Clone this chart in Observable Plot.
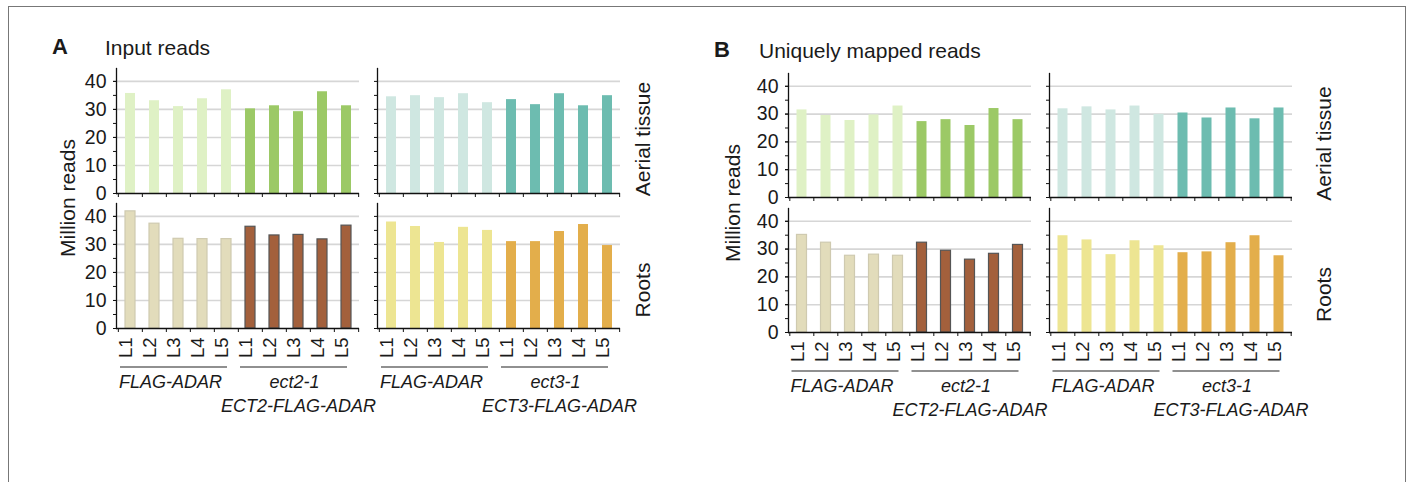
<!DOCTYPE html>
<html>
<head>
<meta charset="utf-8">
<script src="https://cdn.jsdelivr.net/npm/d3@7"></script>
<script src="https://cdn.jsdelivr.net/npm/@observablehq/plot@0.6"></script>
<style>
  body { margin: 0; background: #fff; font-family: "Liberation Sans", Arial, Helvetica, sans-serif; color: #1a1a1a; }
  #wrap { position: relative; width: 1411px; height: 482px; overflow: hidden; background: #fff; }
  .border { position: absolute; left: 8px; top: 6px; width: 1398px; height: 540px; border: 1px solid #777; box-sizing: border-box; }
  .abs { position: absolute; white-space: nowrap; line-height: 1; }
  .letter { font-weight: bold; font-size: 22px; }
  .title { font-size: 21px; }
  .ylab { font-size: 21px; transform: translate(-50%, -50%) rotate(-90deg); }
  .panel { position: absolute; top: 0; }
  .panel svg { overflow: visible; }
</style>
</head>
<body>
<div id="wrap">
  <div class="border"></div>
  <div class="abs letter" style="left:52px;top:36px;">A</div>
  <div class="abs title" style="left:105px;top:37px;">Input reads</div>
  <div class="abs letter" style="left:714px;top:39px;">B</div>
  <div class="abs title" style="left:759px;top:40px;">Uniquely mapped reads</div>
  <div class="abs ylab" style="left:67px;top:198px;">Million reads</div>
  <div class="abs ylab" style="left:732px;top:203px;">Million reads</div>
  <div id="panelA" class="panel" style="left:0px;"></div>
  <div id="panelB" class="panel" style="left:700px;"></div>
</div>
<script>
// ---------- categories & labels ----------
const lanes = ["L1", "L2", "L3", "L4", "L5"];
const slots = ["c", "m"];                       // control group / mutant group inside a facet
const columnKeys = ["ect2", "ect3"];            // left / right facet columns
const tissues = ["Aerial tissue", "Roots"];     // facet rows
const controlLabel = "FLAG-ADAR";
const mutantLines = ["ect2-1", "ect3-1"];
const mutantTransgenes = ["ECT2-FLAG-ADAR", "ECT3-FLAG-ADAR"];
const yTickLabels = [0, 10, 20, 30, 40];
const yMinorTicks = [0, 5, 10, 15, 20, 25, 30, 35, 40];

// ---------- A: Input reads (million) ----------
const inputAerialFlagL = [35.7, 33.1, 31.0, 33.8, 37.0];
const inputAerialEct2  = [30.2, 31.3, 29.2, 36.3, 31.3];
const inputAerialFlagR = [34.5, 34.9, 34.2, 35.6, 32.4];
const inputAerialEct3  = [33.5, 31.7, 35.6, 31.3, 34.9];
const inputRootsFlagL  = [41.8, 37.4, 32.0, 31.9, 31.9];
const inputRootsEct2   = [36.3, 33.2, 33.4, 31.8, 36.7];
const inputRootsFlagR  = [38.0, 36.4, 30.7, 36.1, 35.0];
const inputRootsEct3   = [31.0, 31.0, 34.6, 37.1, 29.6];

// ---------- B: Uniquely mapped reads (million) ----------
const uniqAerialFlagL = [31.5, 29.5, 27.7, 29.7, 32.9];
const uniqAerialEct2  = [27.3, 28.0, 25.9, 32.0, 28.0];
const uniqAerialFlagR = [31.9, 32.6, 31.5, 32.9, 29.9];
const uniqAerialEct3  = [30.4, 28.6, 32.2, 28.3, 32.2];
const uniqRootsFlagL  = [35.1, 32.3, 27.6, 28.0, 27.6];
const uniqRootsEct2   = [32.3, 29.4, 26.2, 28.3, 31.5];
const uniqRootsFlagR  = [34.8, 33.3, 28.0, 33.0, 31.2];
const uniqRootsEct3   = [28.7, 29.0, 32.3, 34.8, 27.6];

// series order: tissue x column x slot
const seriesFill   = ["#dff1c5", "#9cc966", "#cfe7e1", "#6dbcb0", "#e2dcbb", "#a3603c", "#ede592", "#e3ae4b"];
const seriesStroke = ["none", "none", "none", "none", "#cfcab0", "#555", "none", "none"];

const inputSeries = [inputAerialFlagL, inputAerialEct2, inputAerialFlagR, inputAerialEct3,
                     inputRootsFlagL, inputRootsEct2, inputRootsFlagR, inputRootsEct3];
const uniqSeries  = [uniqAerialFlagL, uniqAerialEct2, uniqAerialFlagR, uniqAerialEct3,
                     uniqRootsFlagL, uniqRootsEct2, uniqRootsFlagR, uniqRootsEct3];

const xDomain = slots.flatMap(s => lanes.map(l => s + " " + l));

function buildRows(series) {
  const rows = [];
  tissues.forEach((t, ti) => columnKeys.forEach((c, ci) => slots.forEach((s, si) => {
    const k = ti * 4 + ci * 2 + si;
    series[k].forEach((v, li) => rows.push({fy: t, fx: c, x: s + " " + lanes[li], value: v, k}));
  })));
  return rows;
}

const groupRows = columnKeys.flatMap((c, ci) => [
  {fx: c, slot: "c", line1: controlLabel, line2: ""},
  {fx: c, slot: "m", line1: mutantLines[ci], line2: mutantTransgenes[ci]}
]);

function makePanel(series, o) {
  const rows = buildRows(series);
  const step = o.frameW / xDomain.length;
  const groupText = {fx: "fx", fy: () => "Roots", x: d => d.slot + " L3", frameAnchor: "bottom",
    fontSize: 18, fontStyle: "italic", textAnchor: "middle"};
  return Plot.plot({
    width: o.width, height: 482,
    marginLeft: o.ml, marginRight: o.mr, marginTop: o.mt, marginBottom: o.mb,
    style: {fontFamily: "Liberation Sans, Arial, Helvetica, sans-serif", fontSize: "18px", color: "#1a1a1a", background: "transparent", overflow: "visible"},
    fx: {domain: columnKeys, paddingInner: o.fxPad, paddingOuter: 0, axis: null},
    fy: {domain: tissues, paddingInner: o.fyPad, paddingOuter: 0, axis: null},
    x: {domain: xDomain, paddingInner: 0.59, paddingOuter: 0.295, axis: null},
    y: {domain: [0, 44.6], axis: null},
    color: {type: "identity"},
    marks: [
      Plot.gridY(yTickLabels.slice(1), {stroke: "#d6d6d6", strokeOpacity: 1, strokeWidth: 1.6}),
      Plot.barY(rows, {fx: "fx", fy: "fy", x: "x", y: "value",
        fill: d => seriesFill[d.k], stroke: d => seriesStroke[d.k], strokeWidth: 1.2}),
      Plot.ruleY([0], {stroke: "#111", strokeWidth: 1.5}),
      Plot.frame({anchor: "left", stroke: "#111", strokeWidth: 1.3}),
      // y minor/major ticks in every facet
      Plot.axisY({ticks: yMinorTicks, tickSize: 3, tickFormat: () => "", facetAnchor: null, label: null, stroke: "#111"}),
      // y tick labels (left column only)
      Plot.axisY({ticks: yTickLabels, tickSize: 3, tickPadding: 7, fontSize: 19.5, label: null, stroke: "#111"}),
      // x ticks at band boundaries
      Plot.axisX({ticks: xDomain, tickSize: 4, tickFormat: () => "", dx: -step / 2, facetAnchor: null, label: null, stroke: "#111"}),
      Plot.axisX({ticks: [xDomain[xDomain.length - 1]], tickSize: 4, tickFormat: () => "", dx: step / 2, facetAnchor: null, label: null, stroke: "#111"}),
      // lane labels
      Plot.axisX({ticks: xDomain, tickSize: 0, tickPadding: 9, tickRotate: -90, fontSize: 18.5,
        tickFormat: d => d.split(" ")[1], dx: -4, label: null}),
      // group underline
      Plot.ruleY(groupRows, {fx: "fx", fy: () => "Roots", y: () => 0,
        x1: d => d.slot + " L1", x2: d => d.slot + " L5", dy: 38.5, insetLeft: -5, insetRight: 4,
        stroke: "#222", strokeWidth: 1.2}),
      // group labels
      Plot.text(groupRows, {...groupText, filter: d => d.slot === "c", text: "line1", dy: 59, dx: -8}),
      Plot.text(groupRows, {...groupText, filter: d => d.slot === "m", text: "line1", dy: 59, dx: -4}),
      Plot.text(groupRows, {...groupText, filter: d => d.slot === "m", text: "line2", dy: 83, dx: 0}),
      // row labels
      Plot.text([tissues[0]], {fx: () => columnKeys[1], fy: d => d, text: d => d, textAnchor: "middle",
        frameAnchor: "right", rotate: -90, dx: o.rowDx, dy: 8, fontSize: 21}),
      Plot.text([tissues[1]], {fx: () => columnKeys[1], fy: d => d, text: d => d, textAnchor: "middle",
        frameAnchor: "right", rotate: -90, dx: o.rowDx, dy: 24, fontSize: 21})
    ]
  });
}

document.getElementById("panelA").append(makePanel(inputSeries, {
  width: 700, ml: 116, mr: 80, mt: 67.7, mb: 154.3, frameW: 243, fxPad: 0.069, fyPad: 0.076, rowDx: 23
}));
document.getElementById("panelB").append(makePanel(uniqSeries, {
  width: 711, ml: 87.5, mr: 118, mt: 72.7, mb: 149.7, frameW: 243.7, fxPad: 0.0688, fyPad: 0.081, rowDx: 32
}));
</script>
</body>
</html>
